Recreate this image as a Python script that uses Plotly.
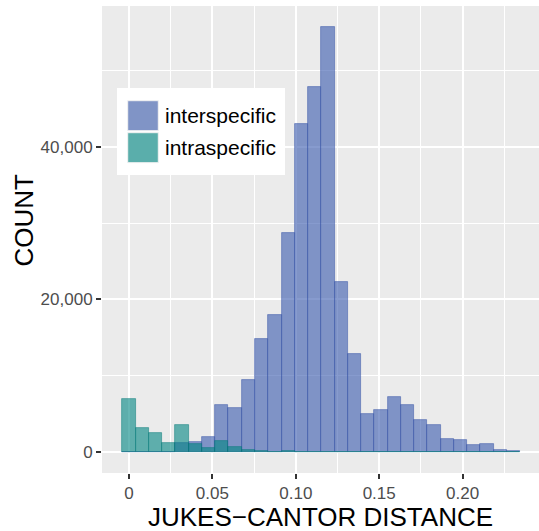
import plotly.graph_objects as go

# Histogram bins (shared by both groups): bin k is centred at k * bin_width
bin_width = 0.00795
n_bins = 30

inter_counts = [0, 0, 0, 0, 1180, 1270, 1930, 6120, 5730, 9410,
                14790, 17940, 28700, 43000, 47860, 55730, 22270, 12820, 4940, 5470,
                7170, 6120, 4150, 3500, 1660, 1530, 880, 1010, 220, 90]
intra_counts = [6910, 3110, 2450, 1140, 3500, 1010, 480, 1400, 610, 220,
                90, 0, 60, 0, 0, 0, 0, 0, 0, 0,
                0, 0, 0, 0, 0, 0, 0, 0, 0, 0]
series_names = ["interspecific", "intraspecific"]

x_ticks = [0, 0.05, 0.10, 0.15, 0.20]
x_tick_labels = ["0", "0.05", "0.10", "0.15", "0.20"]
y_ticks = [0, 20000, 40000]
y_tick_labels = ["0", "20,000", "40,000"]

centers = [k * bin_width for k in range(n_bins)]

blue_fill = "rgba(55,88,173,0.6)"
teal_fill = "rgba(0,133,130,0.6)"
FONT = "Liberation Sans, Arial"

fig = go.Figure()
fig.add_trace(go.Bar(x=centers, y=inter_counts, width=bin_width, name=series_names[0],
                     marker=dict(color=blue_fill, line=dict(color="rgba(50,80,165,0.6)", width=0.8))))
fig.add_trace(go.Bar(x=centers, y=intra_counts, width=bin_width, name=series_names[1],
                     marker=dict(color=teal_fill, line=dict(color="rgba(0,120,118,0.6)", width=0.8))))

# custom legend (big keys like ggplot)
def px2x(p):
    return (p - 102) / 437
def px2y(p):
    return (473 - p) / 467

fig.add_shape(type="rect", xref="paper", yref="paper", x0=px2x(117), x1=px2x(285), y0=px2y(175), y1=px2y(88),
              fillcolor="white", line=dict(width=0), layer="above")
fig.add_shape(type="rect", xref="paper", yref="paper", x0=px2x(127.7), x1=px2x(158.3), y0=px2y(130.7), y1=px2y(100.7),
              fillcolor="#8094C6", line=dict(color="#F2F2F2", width=1), layer="above")
fig.add_shape(type="rect", xref="paper", yref="paper", x0=px2x(127.7), x1=px2x(158.3), y0=px2y(162.7), y1=px2y(132.7),
              fillcolor="#5AAEAB", line=dict(color="#F2F2F2", width=1), layer="above")
for name, yy in zip(series_names, [115.5, 147.5]):
    fig.add_annotation(text=name, xref="paper", yref="paper", x=px2x(163), y=px2y(yy), xanchor="left",
                       yanchor="middle", showarrow=False,
                       font=dict(family=FONT, size=21, color="black"))

# axis titles
fig.add_annotation(text="COUNT", xref="paper", yref="paper", x=px2x(23), y=px2y(220.5), textangle=-90,
                   xanchor="center", yanchor="middle", showarrow=False,
                   font=dict(family=FONT, size=26, color="black"))
fig.add_annotation(text="JUKES−CANTOR DISTANCE", xref="paper", yref="paper", x=px2x(320), y=px2y(517),
                   xanchor="center", yanchor="middle", showarrow=False,
                   font=dict(family=FONT, size=26, color="black"))

fig.update_layout(
    width=539, height=531,
    margin=dict(l=102, r=0, t=6, b=58, autoexpand=False),
    paper_bgcolor="white", plot_bgcolor="#EBEBEB",
    barmode="overlay", bargap=0, showlegend=False,
    font=dict(family=FONT, color="#4D4D4D"),
)
fig.update_xaxes(
    range=[-0.0162, 0.2458], tickvals=x_ticks, ticktext=x_tick_labels, automargin=False,
    showgrid=True, gridcolor="white", gridwidth=1.6, zeroline=False,
    minor=dict(dtick=0.025, tick0=0.025, showgrid=True, gridcolor="white", gridwidth=0.9, ticks=""),
    ticks="outside", ticklen=5, tickwidth=1.5, tickcolor="#333333",
    tickfont=dict(size=17, color="#4D4D4D"),
    showline=False,
)
fig.update_yaxes(
    range=[-2795, 58490], tickvals=y_ticks, ticktext=y_tick_labels, automargin=False,
    showgrid=True, gridcolor="white", gridwidth=1.6, zeroline=False,
    minor=dict(dtick=10000, tick0=10000, showgrid=True, gridcolor="white", gridwidth=0.9, ticks=""),
    ticks="outside", ticklen=5, tickwidth=1.5, tickcolor="#333333",
    tickfont=dict(size=17, color="#4D4D4D"),
    showline=False,
)

fig.write_html("out.html", config={"displayModeBar": False},
               post_script="document.body.style.margin='0';document.body.style.padding='0';")
